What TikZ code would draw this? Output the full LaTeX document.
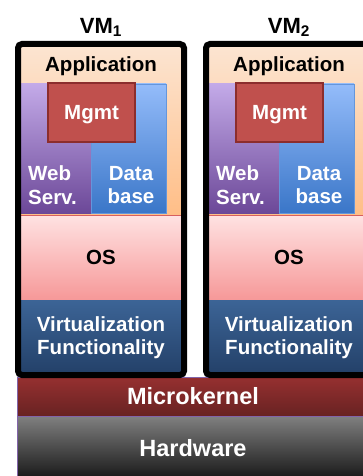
\documentclass[tikz,border=0pt]{standalone}
\usepackage{fontspec}
\setmainfont{Liberation Sans}
\usetikzlibrary{positioning}

\definecolor{apptop}{RGB}{252,229,210}
\definecolor{appbot}{RGB}{255,190,135}
\definecolor{webtop}{RGB}{195,170,232}
\definecolor{webbot}{RGB}{108,72,152}
\definecolor{datatop}{RGB}{148,188,250}
\definecolor{databot}{RGB}{58,118,200}
\definecolor{dataline}{RGB}{100,150,220}
\definecolor{mgmtfill}{RGB}{192,80,77}
\definecolor{mgmtline}{RGB}{140,45,45}
\definecolor{ostop}{RGB}{255,226,226}
\definecolor{osbot}{RGB}{246,152,152}
\definecolor{osline}{RGB}{215,95,95}
\definecolor{virttop}{RGB}{60,100,150}
\definecolor{virtbot}{RGB}{35,64,104}
\definecolor{kerntop}{RGB}{150,48,48}
\definecolor{kernbot}{RGB}{104,34,34}
\definecolor{hwtop}{RGB}{128,128,128}
\definecolor{hwbot}{RGB}{22,22,22}
\definecolor{edgeline}{RGB}{130,100,170}

\begin{document}
\begin{tikzpicture}[
    x=1pt, y=-1pt,
    box/.style={rectangle, inner sep=0pt, outer sep=0pt, anchor=north west},
    blk text/.style={font=\bfseries\fontsize{20.5}{23.5}\selectfont, align=center, inner sep=0pt},
    white text/.style={blk text, text=white},
    big text/.style={white text, font=\bfseries\fontsize{23.5}{26}\selectfont},
    vm frame/.style={box, draw=black, line width=6pt, rounded corners=4pt},
    vm label/.style={inner sep=0pt, font=\bfseries\fontsize{22}{24}\selectfont}
]
    \useasboundingbox (0,0) rectangle (363,476);
    \clip (0,0) rectangle (363,476);

    \node[box, top color=kerntop, bottom color=kernbot, draw=edgeline, line width=0.8pt,
        minimum width=352, minimum height=39, big text] (kernel) at (17,377) {Microkernel};
    \node[box, top color=hwtop, bottom color=hwbot, draw=edgeline, line width=0.8pt,
        minimum width=352, minimum height=64, big text] (hw) at (17,416) {Hardware};

    \foreach \i/\dx in {1/0, 2/188} {
        \begin{scope}[xshift=\dx]
            \node[box, top color=apptop, bottom color=appbot,
                minimum width=166, minimum height=171] (app\i) at (18,44) {};
            \node[blk text] (apptxt\i) at (101,66) {Application};
            \node[box, top color=webtop, bottom color=webbot,
                minimum width=73, minimum height=129] (web\i) at (18,84) {};
            \node[box, top color=datatop, bottom color=databot, draw=dataline, line width=0.8pt,
                minimum width=75, minimum height=129] (data\i) at (91,84) {};
            \node[white text, align=left, anchor=west] (webtxt\i) at (28,185) {Web\\Serv.};
            \node[white text] (datatxt\i) at (131,185) {Data\\base};
            \node[box, fill=mgmtfill, draw=mgmtline, line width=1.5pt, text depth=0pt,
                minimum width=87, minimum height=59, white text] (mgmt\i) at (48,83) {Mgmt};
            \node[box, top color=ostop, bottom color=osbot, draw=osline, line width=0.8pt,
                minimum width=166, minimum height=85, blk text] (os\i) at (18,215) {OS};
            \node[box, top color=virttop, bottom color=virtbot,
                minimum width=166, minimum height=75, white text] (virt\i) at (18,300)
                {Virtualization\\Functionality};
            \node[vm frame, minimum width=166, minimum height=331] (vm\i) at (18,44) {};
            \node[vm label] (vmlbl\i) [above=7pt of vm\i.north] {VM\textsubscript{\i}};
        \end{scope}
    }
\end{tikzpicture}
\end{document}
